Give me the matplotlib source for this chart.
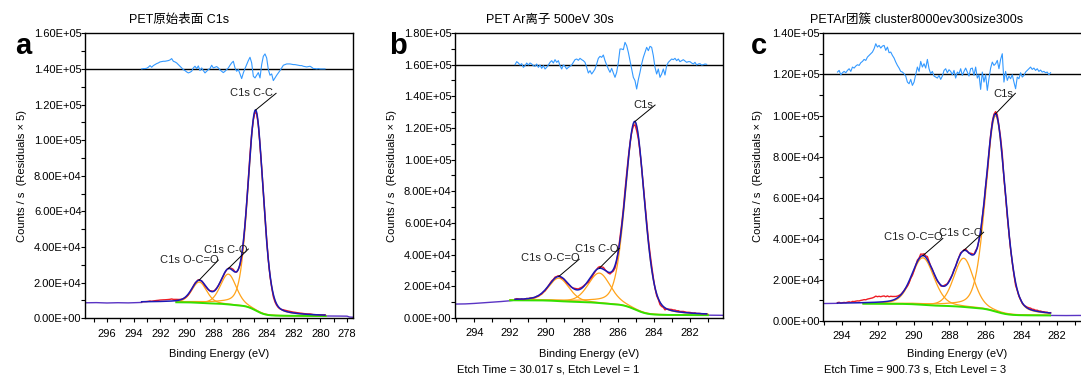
import math
import numpy as np
import matplotlib
matplotlib.use("Agg")
import matplotlib.pyplot as plt
from matplotlib.ticker import MultipleLocator, FuncFormatter

plt.rcParams["font.family"] = ["Liberation Sans", "Noto Sans CJK SC", "DejaVu Sans"]

W, H = 1081, 376

# ---------------- panel a : pristine surface ----------------
a_title = "PET原始表面 C1s"
a_names = ["C1s C-C", "C1s C-O", "C1s O-C=O"]
a_centers = [284.85, 286.90, 289.08]
a_heights = [112000, 17000, 11700]
a_fwhm = [1.35, 1.40, 1.30]
a_bg_high, a_bg_low = 9000, 1300
a_region = (290.8, 279.6)
a_res_span = (293.40, 279.65)
a_residuals = [
    0, 190, 190, 370, 940, 1870, 940, 1870, 2430, 3000, 3370, 3930, 4110, 4300,
    4300, 4490, 4680, 5050, 5800, 4300, 3930, 3370, 2430, 1500, 560, -370, -940,
    -1680, -2240, -1870, -1310, 560, 1500, 190, 1680, -940, 560, -940, -2240,
    -1310, -370, 190, 2060, 560, 940, 1310, 560, -560, -1310, -2060, -1310, -370,
    560, 2060, 3370, 4300, 560, -1310, -370, -2800, -5420, -2240, 190, 2430, 4680,
    6550, 3370, -4110, -5050, -3550, -2060, -5050, 2430, 7110, 8420, 6170, -370,
    -3550, -2800, -6550, -5050, -3550, -2240, -940, 560, 2060, 2430, 2800, 2800,
    2800, 2620, 2430, 2430, 2240, 2060, 1870, 1870, 1500, 1310, 1120, 1310, 1500,
    940, 190, 190, 0, 190, 0, 0, 0, 0,
]
a_left_e = [297.65, 296.8, 296.0, 295.2, 294.4, 293.8, 293.40]
a_left_v = [8700, 8800, 8600, 8750, 8650, 8800, 8900]
a_right_e = [279.65, 278.6, 278.0, 277.8, 277.55]
a_right_v = [1300, 1250, 1200, 700, 600]
a_etch = ""

# ---------------- panel b : Ar ion, 500 eV 30 s ----------------
b_title = "PET Ar离子 500eV 30s"
b_names = ["C1s", "C1s C-O", "C1s O-C=O"]
b_centers = [285.06, 287.04, 289.29]
b_heights = [118000, 18900, 14500]
b_fwhm = [1.25, 1.45, 1.35]
b_bg_high, b_bg_low = 11200, 1800
b_region = (292.0, 281.0)
b_res_span = (291.73, 281.07)
b_residuals = [
    0, 1895, 1050, -210, 630, -1685, -630, 1050, -210, 1050, 420, -630, -1050,
    420, -1685, -210, -2315, -630, -2735, -1685, -210, 1475, 2525, 1050, 3160,
    1475, 2525, -630, -2735, -210, -1050, -2735, -1685, -1050, -210, 1475, 3160,
    3580, 2735, 4000, 3160, 2525, 1475, -1685, -5260, -3790, -5895, -4420, -2735,
    420, 4000, 5260, 4630, 6105, 2525, -210, -2735, -4840, -2315, -5260, -8000,
    -4840, 1475, 9895, 9895, 9470, 14100, 12000, 7790, 2525, -2735, -8000, -10100,
    -15370, -9470, -4840, 420, 4630, 7790, 10950, 8840, 11580, 10950, 5685, -1685,
    -5895, -2735, -8000, -5895, -2735, -6525, -630, 1475, 2525, 3580, 3160, 4000,
    2525, 3580, 1895, 2525, 3160, 2315, 1475, 1895, 1895, 1050, 420, 1475, -210,
    420, 630, -210, 0, 420, 210,
]
b_left_e = [295.07, 294.5, 294.0, 293.5, 293.0, 292.5, 292.0, 291.73]
b_left_v = [8800, 8900, 9200, 9600, 10000, 10400, 10900, 11300]
b_right_e = [281.07, 280.16]
b_right_v = [1800, 1700]
b_etch = "Etch Time = 30.017 s, Etch Level = 1"

# ---------------- panel c : Ar cluster ----------------
c_title = "PETAr团簇 cluster8000ev300size300s"
c_names = ["C1s", "C1s C-O", "C1s O-C=O"]
c_centers = [285.43, 287.21, 289.48]
c_heights = [95300, 23700, 22900]
c_fwhm = [1.30, 1.30, 1.45]
c_bg_high, c_bg_low = 8400, 2700
c_region = (292.8, 282.4)
c_res_span = (294.24, 282.37)
c_residuals = [
    1135, 1945, -160, 810, 1460, 810, 1945, 2760, 1460, 3570, 3080, 4055, 4700,
    4380, 5680, 6325, 7300, 6810, 8435, 9245, 10055, 10870, 12490, 14920, 13300,
    14110, 12815, 13790, 14110, 11680, 13300, 10545, 10870, 9245, 7950, 6000, 4380,
    3080, 1460, 1135, 325, -810, -3730, -4540, -2435, -5355, -3730, -160, 3570,
    1460, 6325, 3570, 5190, 3080, 7300, 2760, 325, 1460, -810, -1300, -1785, -485,
    -2435, -810, 1945, 2760, 810, 2270, 1460, -160, 1945, -1785, 1135, 325, 2760,
    -485, 1460, 3080, 1135, -810, 2760, 3080, -485, 3570, -1785, -160, -7300, 1135,
    -3730, -160, -7785, -2110, 3080, 6000, 4380, 5190, 6810, 2760, 7300, 10055,
    -3730, 1460, -2920, -810, -2110, -160, -3730, -6975, -1300, -2110, 810, -1300,
    -485, 1135, 1945, 2760, 3570, 2435, 3080, 1945, 2760, 1460, 2110, 1135, 1460,
    810, 1135, -160, 810,
]
c_left_e = [295.03, 294.6, 294.24]
c_left_v = [8500, 8550, 8600]
c_right_e = [282.37, 281.5, 280.8, 280.1]
c_right_v = [2700, 2650, 2700, 2650]
c_etch = "Etch Time = 900.73 s, Etch Level = 3"

# Panel layout (pixel boxes: left, top, right, bottom) and axis settings
panels = [
    dict(tag="a", title=a_title, names=a_names, centers=a_centers, heights=a_heights,
         fwhm=a_fwhm, bg_high=a_bg_high, bg_low=a_bg_low, region=a_region,
         res_span=a_res_span, res=a_residuals, left=(a_left_e, a_left_v),
         right=(a_right_e, a_right_v), etch=a_etch,
         box=(85, 33.3, 353, 318.3), xlim=(297.65, 277.55), ymax=1.6e5, base=1.4e5,
         title_x=179, tag_x=15, ylab_x=22, xlab_x=219,
         label_pos=[(285.2, 126600), (287.1, 38300), (289.85, 32700)],
         line_end=[(283.32, 126300), (285.4, 38900), (287.65, 32700)]),
    dict(tag="b", title=b_title, names=b_names, centers=b_centers, heights=b_heights,
         fwhm=b_fwhm, bg_high=b_bg_high, bg_low=b_bg_low, region=b_region,
         res_span=b_res_span, res=b_residuals, left=(b_left_e, b_left_v),
         right=(b_right_e, b_right_v), etch=b_etch,
         box=(455, 33, 723, 318), xlim=(295.07, 280.16), ymax=1.8e5, base=1.6e5,
         title_x=550, tag_x=389, ylab_x=392, xlab_x=589,
         label_pos=[(284.57, 134500), (287.17, 43400), (289.79, 37700)],
         line_end=[(283.94, 134500), (285.93, 44000), (288.16, 37100)]),
    dict(tag="c", title=c_title, names=c_names, centers=c_centers, heights=c_heights,
         fwhm=c_fwhm, bg_high=c_bg_high, bg_low=c_bg_low, region=c_region,
         res_span=c_res_span, res=c_residuals, left=(c_left_e, c_left_v),
         right=(c_right_e, c_right_v), etch=c_etch,
         box=(823.3, 33.3, 1091.3, 321), xlim=(295.03, 280.1), ymax=1.4e5, base=1.2e5,
         title_x=917, tag_x=751, ylab_x=758, xlab_x=957,
         label_pos=[(284.98, 110300), (287.35, 42700), (290.04, 40700)],
         line_end=[(284.33, 110800), (286.1, 43200), (288.37, 40200)]),
]

GL_MIX = 0.25
_erf = np.vectorize(math.erf)


def peak(e, c, h, w, m=GL_MIX):
    x = (np.asarray(e, float) - c) / w
    return h * ((1 - m) * np.exp(-4 * np.log(2) * x ** 2) + m / (1 + 4 * x ** 2))


def peak_area_to(e, c, h, w, m=GL_MIX):
    x = (np.asarray(e, float) - c) / w
    g = (w / 2) * np.sqrt(np.pi / (4 * np.log(2))) * (1 + _erf(2 * np.sqrt(np.log(2)) * x))
    l = (w / 2) * (np.arctan(2 * x) + np.pi / 2)
    return h * ((1 - m) * g + m * l)


def fit_model(e, p):
    """Shirley background, Gaussian-Lorentzian components and their envelope."""
    comps = list(zip(p["centers"], p["heights"], p["fwhm"]))
    hi, lo = p["region"]
    cum = lambda z: sum(peak_area_to(z, *q) for q in comps)
    frac = np.clip((cum(e) - cum(lo)) / (cum(hi) - cum(lo)), 0, 1)
    bg = p["bg_low"] + (p["bg_high"] - p["bg_low"]) * frac
    parts = [peak(e, *q) for q in comps]
    env = bg + sum(parts)
    return bg, parts, env


C_DATA = "#ee1c24"
C_ENV = "#1a1ab8"
C_BG = "#33e000"
C_COMP = "#ffa31a"
C_RES = "#3399ff"
C_RAW = "#5a34c4"

fig = plt.figure(figsize=(W / 100, H / 100), dpi=100)
fig.patch.set_facecolor("white")

for p in panels:
    l, t, r, b = p["box"]
    ax = fig.add_axes([l / W, 1 - b / H, (r - l) / W, (b - t) / H])
    ax.set_xlim(*p["xlim"])
    ax.set_ylim(0, p["ymax"])

    # raw data outside the fitted window
    ax.plot(*p["left"], color=C_RAW, lw=1.0, zorder=2)
    ax.plot(*p["right"], color=C_RAW, lw=1.0, zorder=2)

    # fitted components and background
    hi, lo = p["region"]
    eg = np.linspace(hi, lo, 900)
    bg, parts, _ = fit_model(eg, p)
    for part in parts:
        ax.plot(eg, bg + part, color=C_COMP, lw=0.9, zorder=3)
    ax.plot(eg, bg, color=C_BG, lw=1.4, zorder=4)

    # measured data = envelope + residual / 5
    res = np.asarray(p["res"], float)
    er = np.linspace(p["res_span"][0], p["res_span"][1], len(res))
    _, _, env_r = fit_model(er, p)
    ax.plot(er, env_r + res / 5.0, color=C_DATA, lw=1.0, zorder=5)

    # envelope
    ef = np.linspace(p["res_span"][0], p["res_span"][1], 1200)
    _, _, env_f = fit_model(ef, p)
    ax.plot(ef, env_f, color=C_ENV, lw=1.1, zorder=6)

    # residuals (x5) about the reference line
    ax.axhline(p["base"], color="black", lw=1.0, zorder=7)
    ax.plot(er, p["base"] + res, color=C_RES, lw=0.8, zorder=8)

    # peak labels with leader lines
    for name, c0, (tx, ty), (lx, ly) in zip(p["names"], p["centers"],
                                            p["label_pos"], p["line_end"]):
        _, _, env_c = fit_model(np.array([c0]), p)
        ax.plot([c0, lx], [env_c[0], ly], color="black", lw=0.7, zorder=9)
        ax.text(tx, ty, name, fontsize=8, ha="center", va="center", color="#222222",
                zorder=10)

    ax.xaxis.set_major_locator(MultipleLocator(2))
    ax.xaxis.set_minor_locator(MultipleLocator(1))
    ax.yaxis.set_major_locator(MultipleLocator(2e4))
    ax.yaxis.set_minor_locator(MultipleLocator(1e4))
    ax.yaxis.set_major_formatter(FuncFormatter(lambda v, _: f"{v:.2E}"))
    ax.xaxis.set_major_formatter(FuncFormatter(lambda v, _: f"{v:.0f}"))
    ax.tick_params(axis="both", which="both", direction="out", length=3, width=0.8,
                   labelsize=8, colors="black")
    ax.tick_params(axis="y", which="both", pad=-0.5)
    ax.tick_params(axis="x", which="both", pad=4.5)
    for s in ax.spines.values():
        s.set_linewidth(1.0)

    # texts around the panel
    fig.text(p["title_x"] / W, 1 - 20 / H, p["title"], fontsize=9, ha="center",
             va="center")
    fig.text(p["tag_x"] / W, 1 - 54 / H, p["tag"], fontsize=21, fontweight="bold",
             ha="left", va="baseline")
    fig.text(p["ylab_x"] / W, 1 - 176 / H, "Counts / s  (Residuals × 5)", fontsize=8,
             rotation=90, ha="center", va="center")
    fig.text(p["xlab_x"] / W, 1 - 354 / H, "Binding Energy (eV)", fontsize=8,
             ha="center", va="center")
    if p["etch"]:
        fig.text((p["title_x"] - 2) / W, 1 - 370 / H, p["etch"], fontsize=8,
                 ha="center", va="center")

fig.savefig("out.png", dpi=100, facecolor="white")
